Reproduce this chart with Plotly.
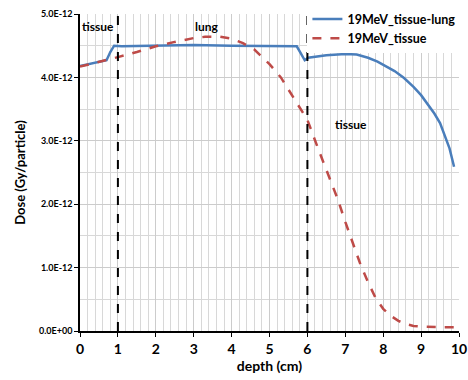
import plotly.graph_objects as go

# depth (cm)
depth_tl = [0, 0.3, 0.7, 0.8, 0.9, 1.1, 2.0, 3.0, 4.0, 5.0, 5.72, 5.93, 6.02, 6.5, 7.0, 7.3,
            7.6, 7.85, 8.1, 8.3, 8.55, 8.8, 9.0, 9.2, 9.35, 9.5, 9.6, 9.75, 9.87]
# dose in units of 1E-12 Gy/particle
dose_tl = [4.18, 4.22, 4.27, 4.40, 4.50, 4.49, 4.50, 4.51, 4.50, 4.49, 4.49, 4.27, 4.31, 4.35, 4.37, 4.36,
           4.31, 4.25, 4.17, 4.10, 3.99, 3.85, 3.72, 3.55, 3.43, 3.28, 3.12, 2.88, 2.59]

depth_t = [0, 0.5, 1.0, 1.5, 2.0, 2.5, 3.0, 3.3, 3.7, 4.0, 4.3, 4.6, 5.0, 5.3, 5.6, 6.0, 6.3, 6.6,
           6.8, 7.0, 7.2, 7.4, 7.6, 7.8, 8.0, 8.2, 8.4, 8.6, 8.8, 9.0, 9.5, 9.9]
dose_t = [4.17, 4.24, 4.32, 4.40, 4.49, 4.56, 4.62, 4.64, 4.64, 4.61, 4.54, 4.44, 4.21, 4.00, 3.72, 3.33,
          2.85, 2.40, 2.08, 1.72, 1.38, 1.05, 0.77, 0.52, 0.35, 0.24, 0.16, 0.11, 0.08, 0.07, 0.06, 0.06]

y_tickvals = [0, 1, 2, 3, 4, 5]
y_ticktext = ["0.0E+00", "1.0E-12", "2.0E-12", "3.0E-12", "4.0E-12", "5.0E-12"]
x_tickvals = [0, 1, 2, 3, 4, 5, 6, 7, 8, 9, 10]

boundaries = [1, 6]
region_labels = ["tissue", "lung", "tissue"]
region_x = [0.47, 3.35, 7.15]
region_y = [4.81, 4.81, 3.25]

FONT = "Lato"

fig = go.Figure()
fig.add_trace(go.Scatter(x=depth_tl, y=dose_tl, mode="lines", name="19MeV_tissue-lung",
                         line=dict(color="#4a7ebb", width=2.5)))
fig.add_trace(go.Scatter(x=depth_t, y=dose_t, mode="lines", name="19MeV_tissue",
                         line=dict(color="#be4b48", width=2.5, dash="dash")))

for b in boundaries:
    fig.add_shape(type="line", x0=b, x1=b, y0=0, y1=5, xref="x", yref="y",
                  line=dict(color="black", width=2, dash="dash"))

for t, xx, yy in zip(region_labels, region_x, region_y):
    fig.add_annotation(x=xx, y=yy, text=t, showarrow=False, xref="x", yref="y",
                       font=dict(family=FONT, size=12, color="black", weight="bold"))

fig.update_layout(
    width=468, height=380,
    margin=dict(l=80, r=9, t=14, b=49, autoexpand=False),
    plot_bgcolor="white", paper_bgcolor="white",
    font=dict(family=FONT, color="black"),
    legend=dict(x=0.60, y=1.03, xanchor="left", yanchor="top", bgcolor="white",
                font=dict(family=FONT, size=12.5, weight="bold"), tracegroupgap=0,
                itemwidth=30),
    xaxis=dict(range=[0, 10], tickvals=x_tickvals, showline=True, linecolor="black", linewidth=1.5,
               ticks="outside", ticklen=4, tickcolor="black", ticklabeloverflow="allow",
               tickfont=dict(family=FONT, size=14, weight="bold"),
               showgrid=True, gridcolor="#cccccc", gridwidth=1, zeroline=False,
               minor=dict(dtick=0.2, showgrid=True, gridcolor="#d8d8d8", gridwidth=1),
               title=dict(text="depth (cm)", font=dict(family=FONT, size=14, weight="bold"), standoff=0)),
    yaxis=dict(range=[0, 5], tickvals=y_tickvals, ticktext=y_ticktext, showline=True,
               linecolor="black", linewidth=1.5, ticks="outside", ticklen=4, tickcolor="black",
               tickfont=dict(family=FONT, size=9, weight="bold"),
               showgrid=True, gridcolor="#cccccc", gridwidth=1, zeroline=False,
               minor=dict(dtick=0.5, showgrid=True, gridcolor="#d8d8d8", gridwidth=1),
               title=dict(text="Dose (Gy/particle)", font=dict(family=FONT, size=13, weight="bold"),
                          standoff=10)),
)

fig.write_html("out.html", config={"displayModeBar": False},
               post_script="document.body.style.margin='0';")
